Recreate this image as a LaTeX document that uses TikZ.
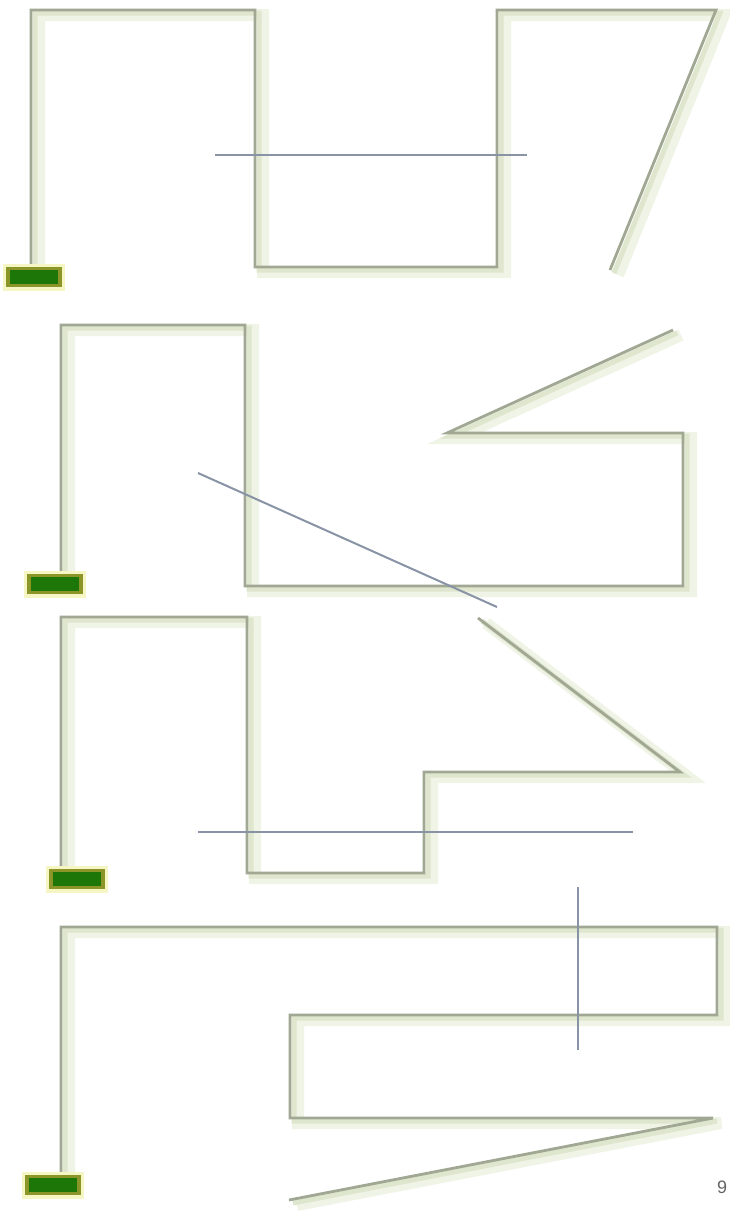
\documentclass[tikz,border=0pt]{standalone}
\usepackage{fontspec}
\setmainfont{Liberation Sans}
\definecolor{wirecol}{RGB}{160,168,148}
\definecolor{shadowA}{RGB}{222,230,206}
\definecolor{shadowB}{RGB}{240,244,230}
\definecolor{probecol}{RGB}{136,148,166}
\definecolor{padfill}{RGB}{28,118,8}
\definecolor{padedge}{RGB}{140,150,40}
\definecolor{padglow}{RGB}{246,246,196}
\definecolor{numcol}{RGB}{100,100,100}
\begin{document}
\begin{tikzpicture}[x=1pt,y=-1pt,
  wire/.style={draw=wirecol, line width=2.8pt, line join=miter,
    preaction={draw=shadowB, line width=12pt, transform canvas={xshift=8pt,yshift=-5pt}},
    preaction={draw=shadowA, line width=5pt, transform canvas={xshift=4pt,yshift=-3pt}}},
  probe/.style={draw=probecol, line width=2pt},
  pad/.style={draw=padedge, fill=padfill, line width=3.5pt, minimum width=52pt,
    minimum height=17pt, inner sep=0pt,
    preaction={draw=padglow, line width=10pt}},
  num/.style={text=numcol, font=\fontsize{18}{20}\selectfont, anchor=west, inner sep=0pt}]
\useasboundingbox[fill=white] (0,0) rectangle (730,1211);

% ---------- section 1 ----------
\coordinate (a1) at (31,10);
\coordinate (a2) at (255,10);
\coordinate (a3) at (255,267);
\coordinate (a4) at (497,267);
\coordinate (a5) at (497,10);
\coordinate (a6) at (716,10);
\coordinate (a7) at (610,270);
\coordinate (b1s) at (215,155);
\coordinate (b1e) at (527,155);

% ---------- section 2 ----------
\coordinate (c1) at (61,325);
\coordinate (c2) at (245,325);
\coordinate (c3) at (245,586);
\coordinate (c4) at (683,586);
\coordinate (c5) at (683,433);
\coordinate (c6) at (447,433);
\coordinate (c7) at (673,330);
\coordinate (b2s) at (198,473);
\coordinate (b2e) at (497,607);

% ---------- section 3 ----------
\coordinate (d1) at (61,617);
\coordinate (d2) at (247,617);
\coordinate (d3) at (247,873);
\coordinate (d4) at (424,873);
\coordinate (d5) at (424,772);
\coordinate (d6) at (680,772);
\coordinate (d7) at (478,618);
\coordinate (b3s) at (198,832);
\coordinate (b3e) at (633,832);

% ---------- section 4 ----------
\coordinate (e1) at (61,927);
\coordinate (e2) at (717,927);
\coordinate (e3) at (717,1015);
\coordinate (e4) at (290,1015);
\coordinate (e5) at (290,1118);
\coordinate (e6) at (713,1118);
\coordinate (e7) at (289,1200);
\coordinate (b4s) at (578,887);
\coordinate (b4e) at (578,1050);

% pads (placed first so wires can attach by name)
\path (34,277) node[pad] (p1) {};
\path (55,584) node[pad] (p2) {};
\path (77,879) node[pad] (p3) {};
\path (53,1185) node[pad] (p4) {};

% wires
\draw[wire] (p1.north -| a1) -- (a1) -- (a2) -- (a3) -- (a4) -- (a5) -- (a6) -- (a7);
\draw[wire] (p2.north -| c1) -- (c1) -- (c2) -- (c3) -- (c4) -- (c5) -- (c6) -- (c7);
\draw[wire] (p3.north -| d1) -- (d1) -- (d2) -- (d3) -- (d4) -- (d5) -- (d6) -- (d7);
\draw[wire] (p4.north -| e1) -- (e1) -- (e2) -- (e3) -- (e4) -- (e5) -- (e6) -- (e7);

% probe lines
\draw[probe] (b1s) -- (b1e);
\draw[probe] (b2s) -- (b2e);
\draw[probe] (b3s) -- (b3e);
\draw[probe] (b4s) -- (b4e);

% pads on top
\node[pad] at (p1) {};
\node[pad] at (p2) {};
\node[pad] at (p3) {};
\node[pad] at (p4) {};

% page number
\node[num] (pg) at (717,1187) {9};
\end{tikzpicture}
\end{document}
